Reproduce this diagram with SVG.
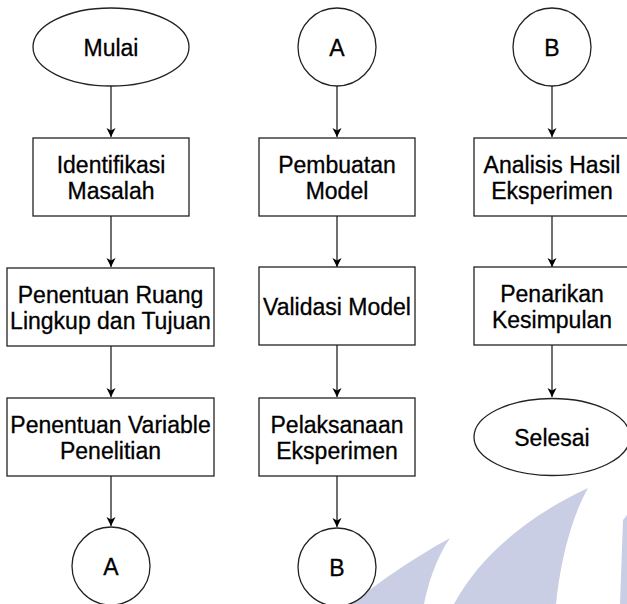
<svg xmlns="http://www.w3.org/2000/svg" width="627" height="604" viewBox="0 0 627 604">
<style>
.shape{fill:#ffffff;stroke:#222222;stroke-width:1.3}
.lbl{font-family:"Liberation Sans",Arial,sans-serif;font-size:23px;fill:#000;stroke:#000;stroke-width:0.3;text-anchor:middle}
.edge{stroke:#222222;stroke-width:1.3;fill:none}
.wm{fill:#c9cee4;stroke:none}
</style>
<defs>
<marker id="arr" markerWidth="10" markerHeight="10" refX="9" refY="5" orient="auto" markerUnits="userSpaceOnUse">
<path d="M0,0.5 L9,5 L0,9.5 L2.5,5 Z" fill="#000"/>
</marker>
</defs>
<rect width="627" height="604" fill="#ffffff"/>
<g id="watermark">
<path class="wm" d="M352,604 C375,585 410,560 450,538 C435,560 428,585 424,604 Z"/>
<path class="wm" d="M454,604 C480,555 530,515 588,488 C570,520 560,565 556,604 Z"/>
<path class="wm" d="M623,520 L627,515 L627,604 L620,604 Z"/>
</g>
<g id="connectors">
<line class="edge" x1="111" y1="86" x2="111" y2="137" marker-end="url(#arr)"/>
<line class="edge" x1="111" y1="216" x2="111" y2="267" marker-end="url(#arr)"/>
<line class="edge" x1="111" y1="346" x2="111" y2="397" marker-end="url(#arr)"/>
<line class="edge" x1="111" y1="476" x2="111" y2="526" marker-end="url(#arr)"/>
<line class="edge" x1="337" y1="86" x2="337" y2="137" marker-end="url(#arr)"/>
<line class="edge" x1="337" y1="216" x2="337" y2="267" marker-end="url(#arr)"/>
<line class="edge" x1="337" y1="345" x2="337" y2="397" marker-end="url(#arr)"/>
<line class="edge" x1="337" y1="476" x2="337" y2="527" marker-end="url(#arr)"/>
<line class="edge" x1="552" y1="86" x2="552" y2="137" marker-end="url(#arr)"/>
<line class="edge" x1="552" y1="216" x2="552" y2="267" marker-end="url(#arr)"/>
<line class="edge" x1="552" y1="345" x2="552" y2="397" marker-end="url(#arr)"/>
</g>
<g id="mulai">
<ellipse class="shape" cx="111" cy="47" rx="78" ry="39"/>
<text class="lbl" x="111" y="56">Mulai</text>
</g>
<g id="identifikasi">
<rect class="shape" x="33" y="138" width="156" height="78"/>
<text class="lbl" x="111" y="173">Identifikasi</text>
<text class="lbl" x="111" y="199">Masalah</text>
</g>
<g id="ruang-lingkup">
<rect class="shape" x="7" y="268" width="207" height="78"/>
<text class="lbl" x="110.5" y="303">Penentuan Ruang</text>
<text class="lbl" x="110.5" y="329">Lingkup dan Tujuan</text>
</g>
<g id="variable">
<rect class="shape" x="7" y="398" width="207" height="78"/>
<text class="lbl" x="110.5" y="433">Penentuan Variable</text>
<text class="lbl" x="110.5" y="459">Penelitian</text>
</g>
<g id="connector-a-out">
<circle class="shape" cx="111" cy="566" r="39"/>
<text class="lbl" x="111" y="575">A</text>
</g>
<g id="connector-a-in">
<circle class="shape" cx="337" cy="47" r="39"/>
<text class="lbl" x="337" y="56">A</text>
</g>
<g id="pembuatan">
<rect class="shape" x="259" y="138" width="156" height="78"/>
<text class="lbl" x="337" y="173">Pembuatan</text>
<text class="lbl" x="337" y="199">Model</text>
</g>
<g id="validasi">
<rect class="shape" x="259" y="267" width="156" height="78"/>
<text class="lbl" x="337" y="315">Validasi Model</text>
</g>
<g id="pelaksanaan">
<rect class="shape" x="259" y="398" width="156" height="78"/>
<text class="lbl" x="337" y="433">Pelaksanaan</text>
<text class="lbl" x="337" y="459">Eksperimen</text>
</g>
<g id="connector-b-out">
<circle class="shape" cx="337" cy="567" r="39"/>
<text class="lbl" x="337" y="576">B</text>
</g>
<g id="connector-b-in">
<circle class="shape" cx="552" cy="47" r="39"/>
<text class="lbl" x="552" y="56">B</text>
</g>
<g id="analisis">
<rect class="shape" x="474" y="138" width="156" height="78"/>
<text class="lbl" x="552" y="173">Analisis Hasil</text>
<text class="lbl" x="552" y="199">Eksperimen</text>
</g>
<g id="penarikan">
<rect class="shape" x="474" y="267" width="156" height="78"/>
<text class="lbl" x="552" y="302">Penarikan</text>
<text class="lbl" x="552" y="328">Kesimpulan</text>
</g>
<g id="selesai">
<ellipse class="shape" cx="552" cy="437" rx="78" ry="38.5"/>
<text class="lbl" x="552" y="446">Selesai</text>
</g>
</svg>
